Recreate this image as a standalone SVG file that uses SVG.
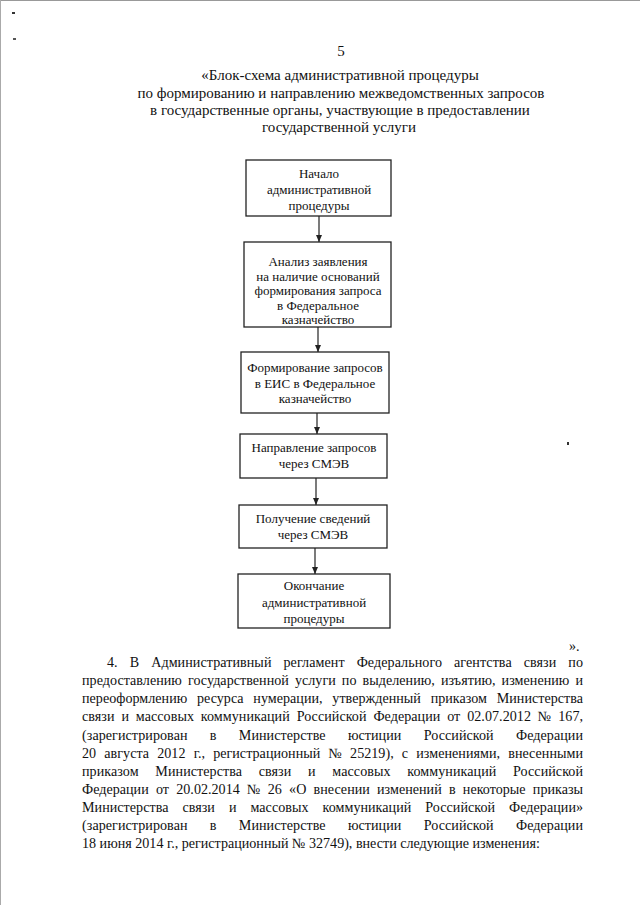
<svg xmlns="http://www.w3.org/2000/svg" width="640" height="905" viewBox="0 0 640 905">
<defs>
<style>
.t{font-family:"Liberation Serif","Times New Roman",serif;fill:#111}
.title{font-size:15px;text-anchor:middle}
.box{fill:#fff;stroke:#222;stroke-width:1.3}
.bt{font-size:13px;text-anchor:middle}
.body{font-size:14.1px}
.conn{stroke:#222;stroke-width:1.2;fill:none}
</style>
<marker id="ah" markerWidth="8" markerHeight="8" refX="7" refY="3.5" orient="auto" markerUnits="userSpaceOnUse" viewBox="0 0 8 8">
<path d="M0,0.5 L7,3.5 L0,6.5 Z" fill="#222"/>
</marker>
</defs>
<rect width="640" height="905" fill="#fff"/>
<line x1="0" y1="0.5" x2="640" y2="0.5" stroke="#999" stroke-width="1"/>
<line x1="0.5" y1="0" x2="0.5" y2="905" stroke="#aaa" stroke-width="1"/>
<rect x="12" y="12" width="3" height="2" fill="#333"/>
<rect x="13" y="38" width="3" height="2" fill="#555"/>
<rect x="567" y="442" width="2" height="3" fill="#333"/>

<g id="header">
<text class="t" x="341" y="56" font-size="15" text-anchor="middle">5</text>
<text class="t title" x="340" y="80">«Блок-схема административной процедуры</text>
<text class="t title" x="341" y="98">по формированию и направлению межведомственных запросов</text>
<text class="t title" x="340" y="115">в государственные органы, участвующие в предоставлении</text>
<text class="t title" x="339" y="132">государственной услуги</text>
</g>

<g id="connectors">
<line class="conn" x1="319" y1="216" x2="319" y2="242" marker-end="url(#ah)"/>
<line class="conn" x1="318" y1="327" x2="318" y2="352" marker-end="url(#ah)"/>
<line class="conn" x1="317" y1="413" x2="317" y2="434" marker-end="url(#ah)"/>
<line class="conn" x1="316" y1="478" x2="316" y2="505" marker-end="url(#ah)"/>
<line class="conn" x1="315" y1="548" x2="315" y2="574" marker-end="url(#ah)"/>
</g>

<g id="n1">
<rect class="box" x="246" y="160" width="145" height="56"/>
<text class="t bt" x="319" y="178">Начало</text>
<text class="t bt" x="319" y="194">административной</text>
<text class="t bt" x="319" y="210">процедуры</text>
</g>

<g id="n2">
<rect class="box" x="244" y="242" width="147" height="85"/>
<text class="t bt" x="318" y="266">Анализ заявления</text>
<text class="t bt" x="318" y="280.5">на наличие оснований</text>
<text class="t bt" x="318" y="295">формирования запроса</text>
<text class="t bt" x="318" y="309.5">в Федеральное</text>
<text class="t bt" x="318" y="324">казначейство</text>
</g>

<g id="n3">
<rect class="box" x="241" y="352" width="148" height="61"/>
<text class="t bt" x="315" y="372">Формирование запросов</text>
<text class="t bt" x="315" y="388">в ЕИС в Федеральное</text>
<text class="t bt" x="315" y="403">казначейство</text>
</g>

<g id="n4">
<rect class="box" x="240" y="434" width="147" height="44"/>
<text class="t bt" x="314" y="452">Направление запросов</text>
<text class="t bt" x="314" y="468">через СМЭВ</text>
</g>

<g id="n5">
<rect class="box" x="239" y="505" width="148" height="43"/>
<text class="t bt" x="313" y="523">Получение сведений</text>
<text class="t bt" x="313" y="539">через СМЭВ</text>
</g>

<g id="n6">
<rect class="box" x="238" y="574" width="152" height="54"/>
<text class="t bt" x="314" y="590">Окончание</text>
<text class="t bt" x="314" y="607">административной</text>
<text class="t bt" x="314" y="623">процедуры</text>
</g>

<g id="body">
<text class="t body" x="569" y="651">».</text>
<text class="t body" x="107" y="667" word-spacing="8.4" textLength="476" lengthAdjust="spacing">4. В Административный регламент Федерального агентства связи по</text>
<text class="t body" x="82" y="685" word-spacing="2.5" textLength="501" lengthAdjust="spacing">предоставлению государственной услуги по выделению, изъятию, изменению и</text>
<text class="t body" x="82" y="703" word-spacing="6.2" textLength="501" lengthAdjust="spacing">переоформлению ресурса нумерации, утвержденный приказом Министерства</text>
<text class="t body" x="82" y="721" word-spacing="3.3" textLength="501" lengthAdjust="spacing">связи и массовых коммуникаций Российской Федерации от 02.07.2012 № 167,</text>
<text class="t body" x="82" y="740" word-spacing="18.7" textLength="501" lengthAdjust="spacing">(зарегистрирован в Министерстве юстиции Российской Федерации</text>
<text class="t body" x="82" y="758" word-spacing="4.6" textLength="501" lengthAdjust="spacing">20 августа 2012 г., регистрационный № 25219), с изменениями, внесенными</text>
<text class="t body" x="82" y="776" word-spacing="13.1" textLength="501" lengthAdjust="spacing">приказом Министерства связи и массовых коммуникаций Российской</text>
<text class="t body" x="82" y="794" word-spacing="3.7" textLength="501" lengthAdjust="spacing">Федерации от 20.02.2014 № 26 «О внесении изменений в некоторые приказы</text>
<text class="t body" x="82" y="812" word-spacing="10.4" textLength="501" lengthAdjust="spacing">Министерства связи и массовых коммуникаций Российской Федерации»</text>
<text class="t body" x="82" y="830" word-spacing="18.7" textLength="501" lengthAdjust="spacing">(зарегистрирован в Министерстве юстиции Российской Федерации</text>
<text class="t body" x="82" y="848">18 июня 2014 г., регистрационный № 32749), внести следующие изменения:</text>
</g>
</svg>
